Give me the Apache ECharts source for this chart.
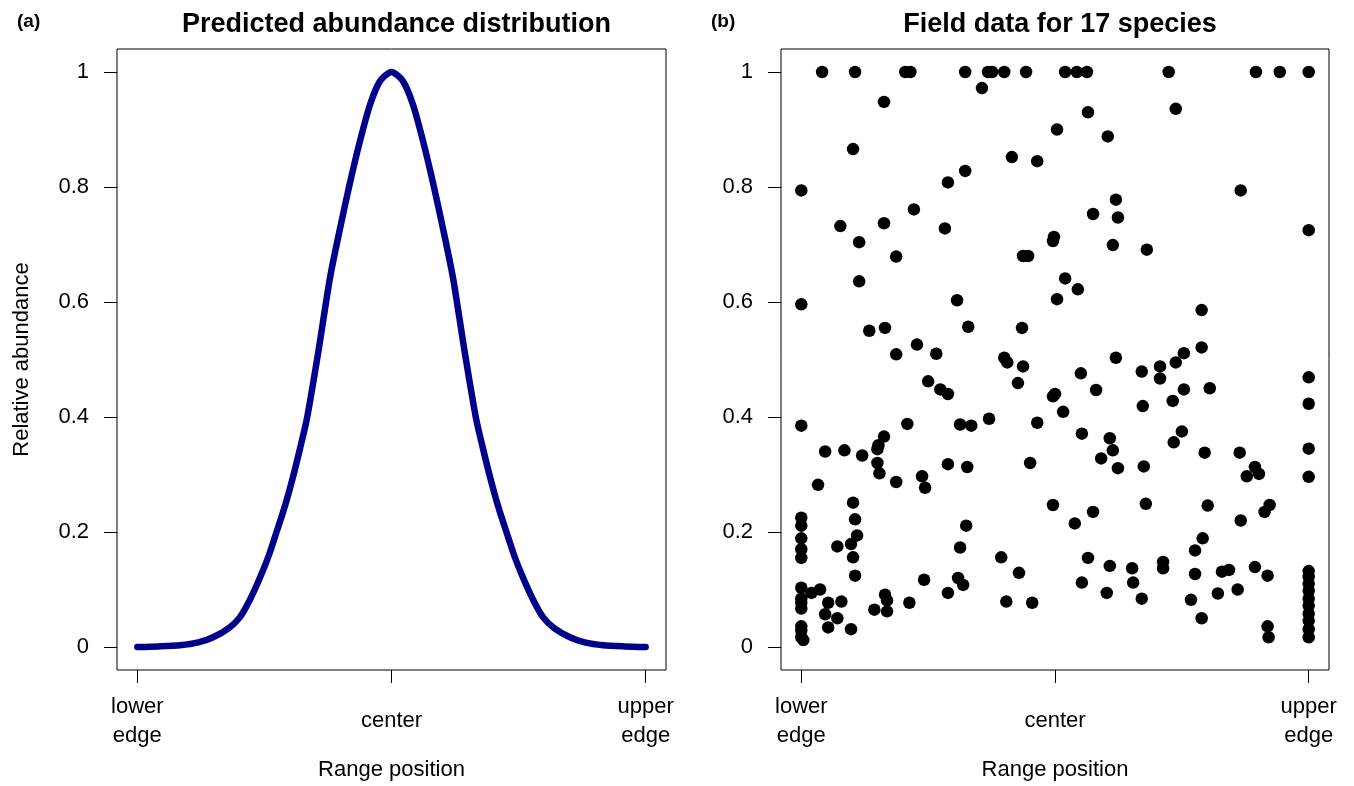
<!DOCTYPE html>
<html>
<head>
<meta charset="utf-8">
<script src="https://cdn.jsdelivr.net/npm/echarts@6/dist/echarts.min.js"></script>
<style>
html,body{margin:0;padding:0;background:#fff;}
#chart{width:1354px;height:786px;}
</style>
</head>
<body>
<div id="chart"></div>
<script>
// ---- Data ----
var positionTicks = [0, 0.5, 1];
var positionLabels = ['lower\nedge', 'center', 'upper\nedge'];
var abundanceTicks = [0, 0.2, 0.4, 0.6, 0.8, 1];

// Panel (a): predicted curve
var curveX = [0, 0.042, 0.084, 0.120, 0.149, 0.180, 0.202, 0.222, 0.242, 0.259, 0.275, 0.291, 0.306, 0.320, 0.334, 0.356,
              0.379, 0.399, 0.418, 0.438, 0.458, 0.478, 0.5,
              0.522, 0.542, 0.562, 0.582, 0.601, 0.621, 0.644, 0.666, 0.680, 0.694, 0.709, 0.725, 0.741, 0.758,
              0.778, 0.798, 0.820, 0.851, 0.880, 0.916, 0.958, 1];
var curveY = [0, 0.001, 0.003, 0.008, 0.017, 0.033, 0.052, 0.083, 0.122, 0.160, 0.203, 0.247, 0.295, 0.345, 0.399, 0.513,
              0.642, 0.729, 0.806, 0.880, 0.944, 0.985, 1,
              0.985, 0.944, 0.880, 0.806, 0.729, 0.642, 0.513, 0.399, 0.345, 0.295, 0.247, 0.203, 0.160, 0.122,
              0.083, 0.052, 0.033, 0.017, 0.008, 0.003, 0.001, 0];

// Panel (b): field data
var fieldX = [0.041,0.106,0.205,0.215,0.323,0.368,0.376,0.400,0.443,0.520,0.543,0.563,0.724,0.896,0.943,1,
  0.356,0.163,0.504,0.102,0.415,0.465,0.323,0.289,0,0.222,0.077,0.163,0.283,0.114,0.187,0.437,0.447,
  0.565,0.738,0.604,0.866,0.620,0.575,0.624,0.498,0.496,0.614,0.681,1,
  0.114,0,0.307,0.504,0.134,0.165,0.329,0.435,0.228,0.266,0.187,0.400,0.406,0.437,0.427,0.250,0.274,0.289,0.496,0.500,
  0,0.209,0.313,0.335,0.370,0.465,0.163,0.152,0.150,0.047,0.085,0.120,
  0.520,0.545,0.789,0.620,0.789,0.754,0.738,0.707,0.707,0.671,0.551,1,0.581,0.754,0.805,0.732,1,0.516,0.673,
  0.553,0.750,0.608,0.734,0.614,0.591,0.795,0.864,1,
  0.150,0.154,0.187,0.238,0.244,0.289,0.327,0.451,0.033,0.102,0.496,0,0,0.106,0.325,0,0.110,0,0.071,0.098,0.313,
  0,0.102,0.394,0.429,0.106,0,0.020,0.037,0.242,0.309,0.319,0.289,0,0,0,0.053,0.079,0.165,0.169,0.213,0.144,0.169,
  0.404,0.455,0.047,0.071,0,0,0.053,0.098,0,0.004,
  0.624,0.675,0.894,0.878,0.902,1,0.539,0.575,0.679,0.801,0.866,0.913,0.923,0.791,0.776,0.565,0.553,0.608,0.652,
  0.654,0.602,0.671,0.713,0.713,0.776,0.829,0.843,0.894,0.919,0.768,0.821,0.860,0.789,0.919,0.921,
  1,1,1,1,1,1,1,1,1,1];
var fieldY = [1,1,1,1,1,1,1,1,1,1,1,1,1,1,1,1,
  0.972,0.948,0.900,0.866,0.852,0.845,0.828,0.808,0.794,0.761,0.732,0.737,0.728,0.704,0.679,0.680,0.680,
  0.930,0.936,0.888,0.794,0.778,0.753,0.747,0.713,0.706,0.699,0.691,0.725,
  0.636,0.596,0.603,0.605,0.550,0.555,0.557,0.555,0.526,0.510,0.509,0.503,0.495,0.488,0.459,0.462,0.448,0.440,0.436,0.440,
  0.385,0.388,0.387,0.385,0.397,0.390,0.366,0.351,0.344,0.340,0.342,0.333,
  0.641,0.622,0.586,0.503,0.521,0.511,0.495,0.488,0.467,0.479,0.476,0.469,0.447,0.448,0.450,0.428,0.423,0.409,0.419,
  0.371,0.375,0.363,0.356,0.342,0.328,0.338,0.338,0.345,
  0.320,0.302,0.287,0.297,0.277,0.318,0.313,0.320,0.282,0.251,0.247,0.225,0.211,0.222,0.211,0.189,0.194,0.170,0.175,0.179,0.173,
  0.155,0.156,0.156,0.129,0.124,0.103,0.094,0.100,0.117,0.120,0.108,0.094,0.084,0.077,0.067,0.077,0.079,0.091,0.081,0.077,0.065,0.062,
  0.079,0.077,0.057,0.050,0.036,0.029,0.034,0.031,0.017,0.012,
  0.311,0.314,0.313,0.297,0.301,0.296,0.215,0.235,0.249,0.246,0.220,0.235,0.247,0.189,0.168,0.155,0.112,0.141,0.137,
  0.112,0.094,0.084,0.148,0.137,0.127,0.131,0.134,0.139,0.124,0.082,0.093,0.100,0.050,0.036,0.017,
  0.132,0.122,0.110,0.098,0.084,0.072,0.058,0.046,0.031,0.017];

var curveData = curveX.map(function (x, i) { return [x, curveY[i]]; });
var fieldData = fieldX.map(function (x, i) { return [x, fieldY[i]]; });

// ---- Chart ----
var FONT = '"Liberation Sans", Arial, Helvetica, sans-serif';
var chart = echarts.init(document.getElementById('chart'), null, {renderer: 'canvas'});

function xAxisCfg(gridIndex) {
  return {
    type: 'value', gridIndex: gridIndex, min: -0.04, max: 1.04, position: 'bottom',
    splitLine: {show: false},
    axisLine: {show: false, onZero: false},
    axisTick: {show: true, inside: false, length: 13, lineStyle: {color: '#000', width: 1}, customValues: positionTicks},
    axisLabel: {
      customValues: positionTicks,
      formatter: function (v) {
        var i = positionTicks.indexOf(v);
        return i >= 0 ? positionLabels[i] : '';
      },
      verticalAlign: 'middle',
      margin: 51,
      lineHeight: 29,
      fontFamily: FONT, fontSize: 22, color: '#000'
    },
    name: 'Range position', nameLocation: 'middle', nameGap: 89,
    nameTextStyle: {fontFamily: FONT, fontSize: 22, color: '#000'}
  };
}
function yAxisCfg(gridIndex, name) {
  return {
    type: 'value', gridIndex: gridIndex, min: -0.04, max: 1.04, position: 'left',
    splitLine: {show: false},
    axisLine: {show: false, onZero: false},
    axisTick: {show: true, inside: false, length: 13, lineStyle: {color: '#000', width: 1}, customValues: abundanceTicks},
    axisLabel: {
      customValues: abundanceTicks,
      formatter: function (v) { return String(Math.round(v * 10) / 10); },
      margin: 28,
      fontFamily: FONT, fontSize: 22, color: '#000'
    },
    name: name, nameLocation: 'middle', nameGap: 84,
    nameTextStyle: {fontFamily: FONT, fontSize: 22, color: '#000'}
  };
}

var option = {
  backgroundColor: '#fff',
  animation: false,
  title: [
    {text: 'Predicted abundance distribution', left: 391.5, top: 6, textAlign: 'center',
     textStyle: {fontFamily: FONT, fontSize: 27, fontWeight: 'bold', color: '#000'}},
    {text: 'Field data for 17 species', left: 1055, top: 6, textAlign: 'center',
     textStyle: {fontFamily: FONT, fontSize: 27, fontWeight: 'bold', color: '#000'}},
    {text: '(a)', left: 12, top: 7,
     textStyle: {fontFamily: FONT, fontSize: 19, fontWeight: 'bold', color: '#000'}},
    {text: '(b)', left: 706, top: 7,
     textStyle: {fontFamily: FONT, fontSize: 19, fontWeight: 'bold', color: '#000'}}
  ],
  grid: [
    {left: 117, top: 49, width: 549, height: 622, show: true, borderColor: '#000', borderWidth: 1, containLabel: false},
    {left: 781, top: 49, width: 548, height: 629, show: true, borderColor: '#000', borderWidth: 1, containLabel: false}
  ],
  xAxis: [xAxisCfg(0), xAxisCfg(1)],
  yAxis: [yAxisCfg(0, 'Relative abundance'), yAxisCfg(1, '')],
  series: [
    {
      type: 'line', xAxisIndex: 0, yAxisIndex: 0, data: curveData,
      smooth: 0.25, showSymbol: false, symbol: 'none',
      lineStyle: {color: '#00008B', width: 6.5, cap: 'round', join: 'round'}
    },
    {
      type: 'scatter', xAxisIndex: 1, yAxisIndex: 1, data: fieldData,
      symbol: 'circle', symbolSize: 12.5,
      itemStyle: {color: '#000', opacity: 1}
    }
  ]
};
chart.setOption(option);
</script>
</body>
</html>
